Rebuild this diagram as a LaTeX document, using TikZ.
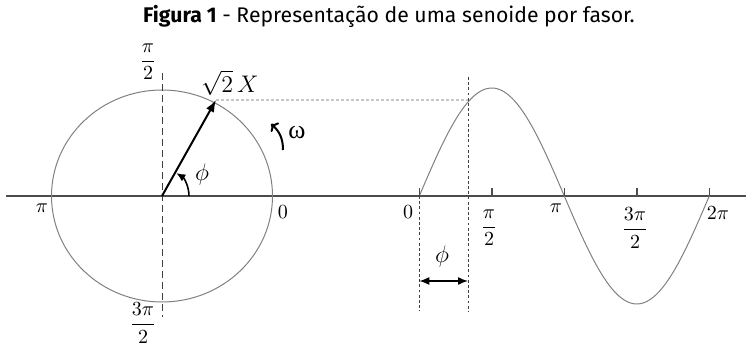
\documentclass[tikz,border=0pt]{standalone}
\usepackage{amsmath}
\usepackage{fontspec}
\usetikzlibrary{arrows.meta}
\newfontfamily\titlefont{Fira Sans}
\newfontfamily\omegafont{Liberation Serif}

\begin{document}
\begin{tikzpicture}[x=0.5pt, y=-0.5pt,
  curve/.style={draw=black!50, line width=0.5pt},
  axis/.style={draw=black!70, line width=0.75pt},
  guide/.style={draw=black!75, line width=0.5pt, dash pattern=on 3.5pt off 2pt},
  fine guide/.style={draw=black!75, line width=0.5pt, dash pattern=on 1.4pt off 1.2pt},
  proj/.style={draw=black!22, line width=1.2pt, dash pattern=on 1.5pt off 1pt},
  lbl/.style={inner sep=0pt}]
  \useasboundingbox (0,0) rectangle (746,347);
  \node[anchor=base, font=\titlefont\fontsize{10.6}{12}\selectfont] (title) at (389,22.5)
    {\textbf{Figura 1} - Representação de uma senoide por fasor.};

  % phasor on the circle
  \coordinate (c) at (162,196);
  \coordinate (tip) at (216,100);
  \coordinate (axl) at (6,196);
  \coordinate (axr) at (746,196);
  \draw[axis] (axl) -- (axr);
  \draw[curve] (c) ellipse [x radius=55.25pt, y radius=53pt];
  \draw[guide] (162,73) -- (162,317);
  \draw[line width=1pt, -{Latex[length=6pt,width=4.5pt]}] (c) -- (tip);
  \draw[line width=0.8pt, -{Latex[length=4.5pt,width=4pt]}] ([xshift=13.5pt]c)
    arc[start angle=0, end angle=58, radius=13.5pt];
  \draw[line width=1pt, -{To[length=3pt,width=6pt]}] (283,150) to[bend right=25] (271,124);

  \node[lbl] (halfpi) at (148,62) {$\dfrac{\pi}{2}$};
  \node[lbl] (threehalfpi) at (143,323) {$\dfrac{3\pi}{2}$};
  \node[lbl] (pi) at (42,208) {$\pi$};
  \node[lbl] (zero) at (283,212) {$0$};
  \node[lbl, font=\large] (amp) at (230,83) {$\sqrt{2}\,X$};
  \node[lbl, font=\large] (phi) at (202,175) {$\phi$};
  \node[lbl, font=\omegafont\fontsize{13}{15}\selectfont] (omega) at (297,133) {ω};

  % sine wave
  \coordinate (z0) at (419.3,196);
  \coordinate (cut) at (468,100);
  \draw[curve] plot[domain=0:360, samples=120] ({419.3+\x*0.80556},{196-108*sin(\x)});
  \foreach \k in {0,...,4}
    \draw[axis] ({419.3+\k*72.5},196) -- ++(0,-8);
  \draw[fine guide] (z0) -- (419.3,311);
  \draw[fine guide] (468,77) -- (468,312);
  \draw[proj] (tip) -- (cut);
  \draw[line width=0.7pt, {Latex[length=5pt,width=4pt]}-{Latex[length=5pt,width=4pt]}]
    (419.3,281) -- (468,281);

  \node[lbl] (szero) at (408,212) {$0$};
  \node[lbl] (shalfpi) at (489,228) {$\dfrac{\pi}{2}$};
  \node[lbl] (spi) at (556,208) {$\pi$};
  \node[lbl] (sthreehalfpi) at (635,228) {$\dfrac{3\pi}{2}$};
  \node[lbl] (stwopi) at (718,213) {$2\pi$};
  \node[lbl, font=\large] (sphi) at (442,257) {$\phi$};
\end{tikzpicture}
\end{document}
